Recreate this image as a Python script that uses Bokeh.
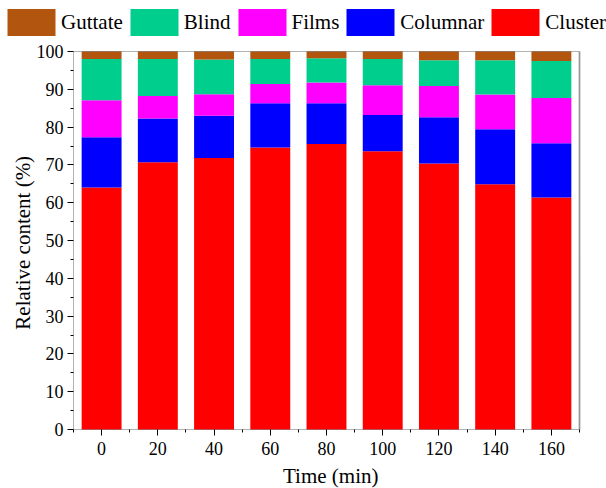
import math
from bokeh.plotting import figure
from bokeh.models import (ColumnDataSource, Legend, LegendItem, FixedTicker,
                          LinearAxis, BoxAnnotation, Label)
from bokeh.embed import file_html
from bokeh.resources import INLINE

# Sampling times (min)
times = [0, 20, 40, 60, 80, 100, 120, 140, 160]

# Relative content (%) of each morphology class, bottom to top of the stack
cluster = [64.0, 70.7, 71.8, 74.6, 75.5, 73.6, 70.4, 64.9, 61.4]
columnar = [13.3, 11.6, 11.2, 11.7, 10.8, 9.6, 12.2, 14.5, 14.3]
films = [9.8, 5.9, 5.7, 5.1, 5.5, 7.9, 8.3, 9.2, 12.0]
blind = [10.9, 9.8, 9.2, 6.6, 6.4, 6.9, 6.8, 9.1, 9.8]
guttate = [2.0, 2.0, 2.1, 2.0, 1.8, 2.0, 2.3, 2.3, 2.5]

x_ticks = [0, 20, 40, 60, 80, 100, 120, 140, 160]
x_minor = [-10, 10, 30, 50, 70, 90, 110, 130, 150, 170]
y_ticks = [0, 10, 20, 30, 40, 50, 60, 70, 80, 90, 100]
y_minor = [5, 15, 25, 35, 45, 55, 65, 75, 85, 95]

names = ["Cluster", "Columnar", "Films", "Blind", "Guttate"]
colors = ["#FF0000", "#0000FF", "#FF00FF", "#00CE8C", "#B2560F"]

source = ColumnDataSource(dict(
    time=times, Cluster=cluster, Columnar=columnar, Films=films,
    Blind=blind, Guttate=guttate,
))

FONT = "Liberation Serif"
W, H = 606, 488
# plotting box inside the canvas (pixels)
BOX_L, BOX_R, BOX_T, BOX_B = 73, 579, 51, 429
X0, X1 = -10, 170
Y0, Y1 = 0, 100

# the frame fills the whole canvas; ranges are widened so the data box lands in place
sx = (X1 - X0) / (BOX_R - BOX_L)
sy = (Y1 - Y0) / (BOX_B - BOX_T)
x_range = (X0 - BOX_L * sx, X1 + (W - BOX_R) * sx)
y_range = (Y0 - (H - BOX_B) * sy, Y1 + BOX_T * sy)

p = figure(
    width=W, height=H, output_backend="svg", toolbar_location=None,
    x_range=x_range, y_range=y_range,
    x_axis_location=None, y_axis_location=None,
    min_border_left=0, min_border_right=0, min_border_top=0, min_border_bottom=0,
)
p.grid.visible = False
p.outline_line_color = None

renderers = p.vbar_stack(names, x="time", width=14.2, color=colors,
                         line_color=None, source=source)

# frame around the data box, with a grey right-hand edge
p.add_layout(BoxAnnotation(left=X0, right=X1, bottom=Y0, top=Y1,
                           fill_color=None, fill_alpha=0,
                           line_color="black", line_width=1))
p.add_layout(BoxAnnotation(left=X1, right=X1, bottom=Y0, top=Y1,
                           fill_color=None, fill_alpha=0,
                           line_color="#5a5a5a", line_width=2.5))


def style_axis(ax):
    ax.axis_line_color = None
    ax.major_label_text_font = FONT
    ax.major_label_text_font_size = "18px"
    ax.major_label_text_color = "black"
    ax.major_tick_line_color = "black"
    ax.minor_tick_line_color = "black"
    ax.major_tick_out = 6
    ax.major_tick_in = 0
    ax.minor_tick_out = 3
    ax.minor_tick_in = 0


xaxis = LinearAxis(fixed_location=Y0,
                   ticker=FixedTicker(ticks=x_ticks, minor_ticks=x_minor))
style_axis(xaxis)
xaxis.major_label_standoff = 6
p.add_layout(xaxis, "below")

yaxis = LinearAxis(fixed_location=X0,
                   ticker=FixedTicker(ticks=y_ticks, minor_ticks=y_minor))
style_axis(yaxis)
yaxis.major_label_standoff = 4
p.add_layout(yaxis, "left")

# axis titles
p.add_layout(Label(x=(X0 + X1) / 2 + 1.5, y=Y0 - 12.4, text="Time (min)",
                   text_font=FONT, text_font_size="21px", text_color="black",
                   text_align="center", text_baseline="middle"))
p.add_layout(Label(x=X0 - 18.0, y=(Y0 + Y1) / 2 - 0.6, text="Relative content (%)",
                   angle=math.pi / 2,
                   text_font=FONT, text_font_size="21px", text_color="black",
                   text_align="center", text_baseline="middle"))

# horizontal legend in the strip above the data box
items = [LegendItem(label=n, renderers=[r]) for n, r in zip(names, renderers)][::-1]
legend = Legend(
    items=items, orientation="horizontal", location=(1, H - 39),
    glyph_width=60, glyph_height=34, label_standoff=0, spacing=1,
    label_text_font=FONT, label_text_font_size="21px", label_text_color="black",
    border_line_color=None, background_fill_alpha=0,
    padding=0, margin=0,
)
p.add_layout(legend, "center")

open("out.html", "w").write(file_html(p, INLINE))
